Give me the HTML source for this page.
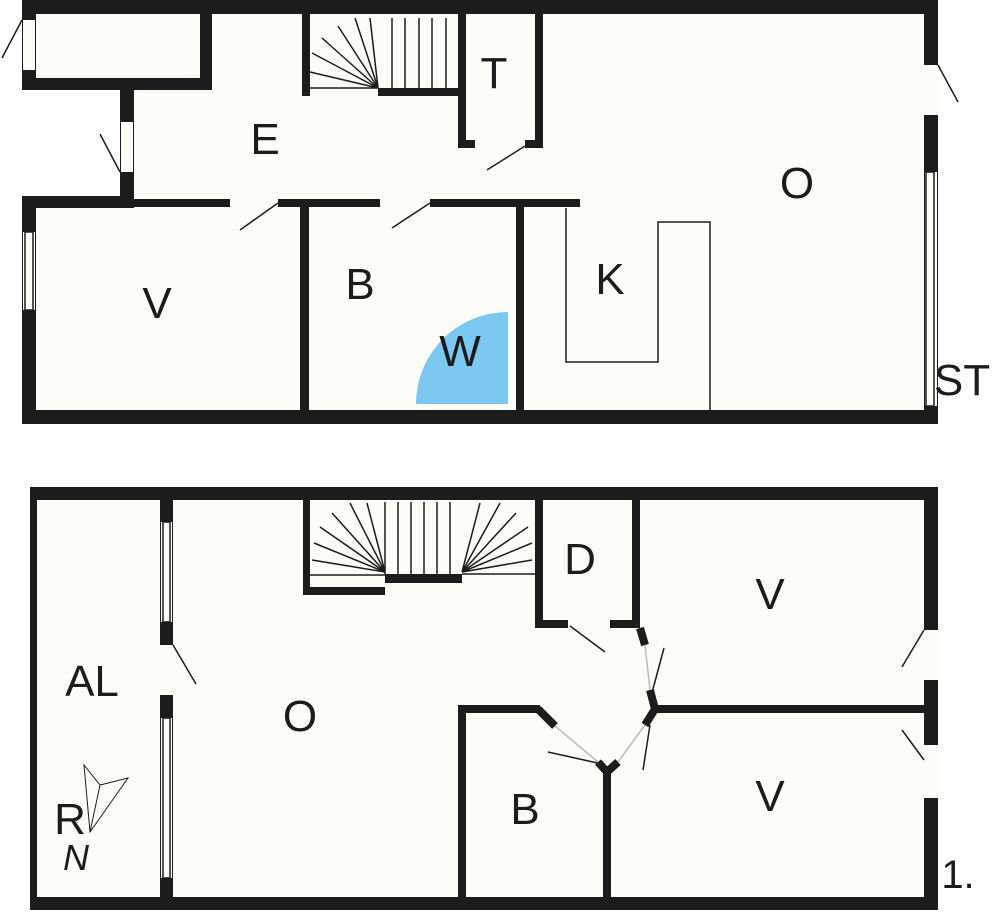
<!DOCTYPE html>
<html><head><style>body{margin:0;background:#fff}svg{display:block}</style></head><body>
<svg width="1000" height="915" viewBox="0 0 1000 915" xmlns="http://www.w3.org/2000/svg" font-family="Liberation Sans, sans-serif">
<!-- TOP FLOOR -->
<path d="M22 0 H938 V424 H22 V196 H120 V90 H22 Z" fill="#fdfdf8"/>
<g fill="#1c1c1c">
<rect x="22" y="0" width="916" height="14"/>
<rect x="924" y="0" width="14" height="424"/>
<rect x="22" y="410" width="916" height="14"/>
<rect x="22" y="196" width="14" height="228"/>
<rect x="22" y="0" width="14" height="90"/>
<rect x="22" y="78" width="190" height="12"/>
<rect x="200" y="0" width="12" height="90"/>
<rect x="120" y="90" width="14" height="118"/>
<rect x="22" y="196" width="112" height="12"/>
<rect x="134" y="199" width="446" height="8"/>
<rect x="300" y="200" width="9" height="210"/>
<rect x="516" y="200" width="8" height="210"/>
<rect x="302" y="14" width="8" height="82"/>
<rect x="378" y="88" width="82" height="8"/>
<rect x="458" y="14" width="8" height="134"/>
<rect x="535" y="14" width="8" height="134"/>
<rect x="458" y="140" width="85" height="8"/>
</g>
<g fill="#fdfdf8">
<rect x="23" y="20" width="12" height="50"/>
<rect x="121" y="122" width="12" height="50"/>
<rect x="924" y="65" width="14" height="50"/>
<rect x="925" y="172" width="12" height="234"/>
<rect x="23" y="232" width="12" height="78"/>
<rect x="230" y="199" width="48" height="8"/>
<rect x="380" y="199" width="50" height="8"/>
<rect x="475" y="140" width="50" height="8"/>
</g>
<g stroke="#1c1c1c" stroke-width="1.5" fill="none">
<rect x="926" y="172" width="8" height="234"/>
<rect x="25" y="232" width="8" height="78"/>
<line x1="22" y1="20" x2="2" y2="58"/>
<line x1="120" y1="172" x2="100" y2="134"/>
<line x1="938" y1="65" x2="958" y2="102"/>
<line x1="278" y1="203" x2="240" y2="230"/>
<line x1="430" y1="203" x2="392" y2="228"/>
<line x1="525" y1="146" x2="487" y2="170"/>
<path d="M566 208 V362 H658 V222 H710 V410"/>
<!-- stairs -->
<path d="M310 88 H378 M392 18 V88 M405 18 V88 M419 18 V88 M432 18 V88 M446 18 V88 M378 88 L310 72 M378 88 L312 53 M378 88 L322 38 M378 88 L338 26 M378 88 L355 18 M378 88 L370 18"/>
</g>
<path d="M416 404 A92 92 0 0 1 508 312 V404 Z" fill="#7cc8f0"/>
<g font-size="44" fill="#1c1c1c" text-anchor="middle">
<text x="265" y="154">E</text>
<text x="494" y="88">T</text>
<text x="797" y="198">O</text>
<text x="157" y="318">V</text>
<text x="360" y="299">B</text>
<text x="460" y="366">W</text>
<text x="610" y="294">K</text>
<text x="962" y="395">ST</text>
</g>
<!-- BOTTOM FLOOR -->
<rect x="30" y="487" width="908" height="423" fill="#fdfdf8"/>
<g fill="#1c1c1c">
<rect x="30" y="487" width="908" height="13"/>
<rect x="30" y="897" width="908" height="13"/>
<rect x="30" y="487" width="7" height="423"/>
<rect x="924" y="487" width="14" height="423"/>
<rect x="160" y="500" width="13" height="397"/>
<rect x="303" y="500" width="7" height="95"/>
<rect x="303" y="587" width="82" height="8"/>
<rect x="385" y="574" width="77" height="9"/>
<rect x="535" y="500" width="8" height="128"/>
<rect x="632" y="500" width="8" height="128"/>
<rect x="535" y="620" width="105" height="8"/>
<rect x="655" y="705" width="269" height="8"/>
<rect x="458" y="705" width="8" height="192"/>
<rect x="458" y="705" width="82" height="8"/>
<rect x="603" y="770" width="8" height="127"/>
</g>
<g fill="#fdfdf8">
<rect x="161" y="522" width="11" height="100"/>
<rect x="160" y="645" width="13" height="50"/>
<rect x="161" y="718" width="11" height="160"/>
<rect x="924" y="630" width="14" height="50"/>
<rect x="924" y="745" width="14" height="53"/>
<rect x="568" y="620" width="42" height="8"/>
</g>
<g stroke="#1c1c1c" fill="none">
<path d="M538 709 L555 726 M598 762 L607 772 L618 762 M640 628 L645 645 M650 690 L655 709 L645 725" stroke-width="8"/>
<g stroke-width="1.5">
<rect x="163" y="522" width="7" height="100"/>
<rect x="163" y="718" width="7" height="160"/>
<line x1="173" y1="645" x2="196" y2="684"/>
<line x1="924" y1="630" x2="902" y2="667"/>
<line x1="924" y1="760" x2="902" y2="730"/>
<line x1="570" y1="626" x2="605" y2="652"/>
<line x1="602" y1="764" x2="548" y2="752"/>
<line x1="650" y1="700" x2="664" y2="648"/>
<line x1="650" y1="725" x2="643" y2="770"/>
<line x1="555" y1="726" x2="598" y2="762" stroke="#bbb"/>
<line x1="618" y1="762" x2="645" y2="725" stroke="#bbb"/>
<line x1="645" y1="645" x2="650" y2="690" stroke="#bbb"/>
<path d="M310 575 H385 M385 502 V574 M398 502 V574 M411 502 V574 M424 502 V574 M437 502 V574 M450 502 V574 M462 574 H535"/>
<path d="M385 572 L312 560 M385 572 L314 543 M385 572 L320 527 M385 572 L332 513 M385 572 L350 503 M385 572 L367 503 M462 572 L532 560 M462 572 L532 543 M462 572 L528 527 M462 572 L516 513 M462 572 L500 503 M462 572 L480 503"/>
<path d="M90 832 L84 765 L100 785 L128 778 Z M100 785 L90 832" stroke-width="1"/>
</g>
</g>
<g font-size="44" fill="#1c1c1c" text-anchor="middle">
<text x="580" y="574">D</text>
<text x="770" y="609">V</text>
<text x="770" y="811">V</text>
<text x="92" y="696">AL</text>
<text x="300" y="731">O</text>
<text x="525" y="824">B</text>
<text x="70" y="834">R</text>
<text x="76" y="870" font-size="36" font-style="italic">N</text>
<text x="958" y="888" font-size="40">1.</text>
</g>
</svg>
</body></html>
